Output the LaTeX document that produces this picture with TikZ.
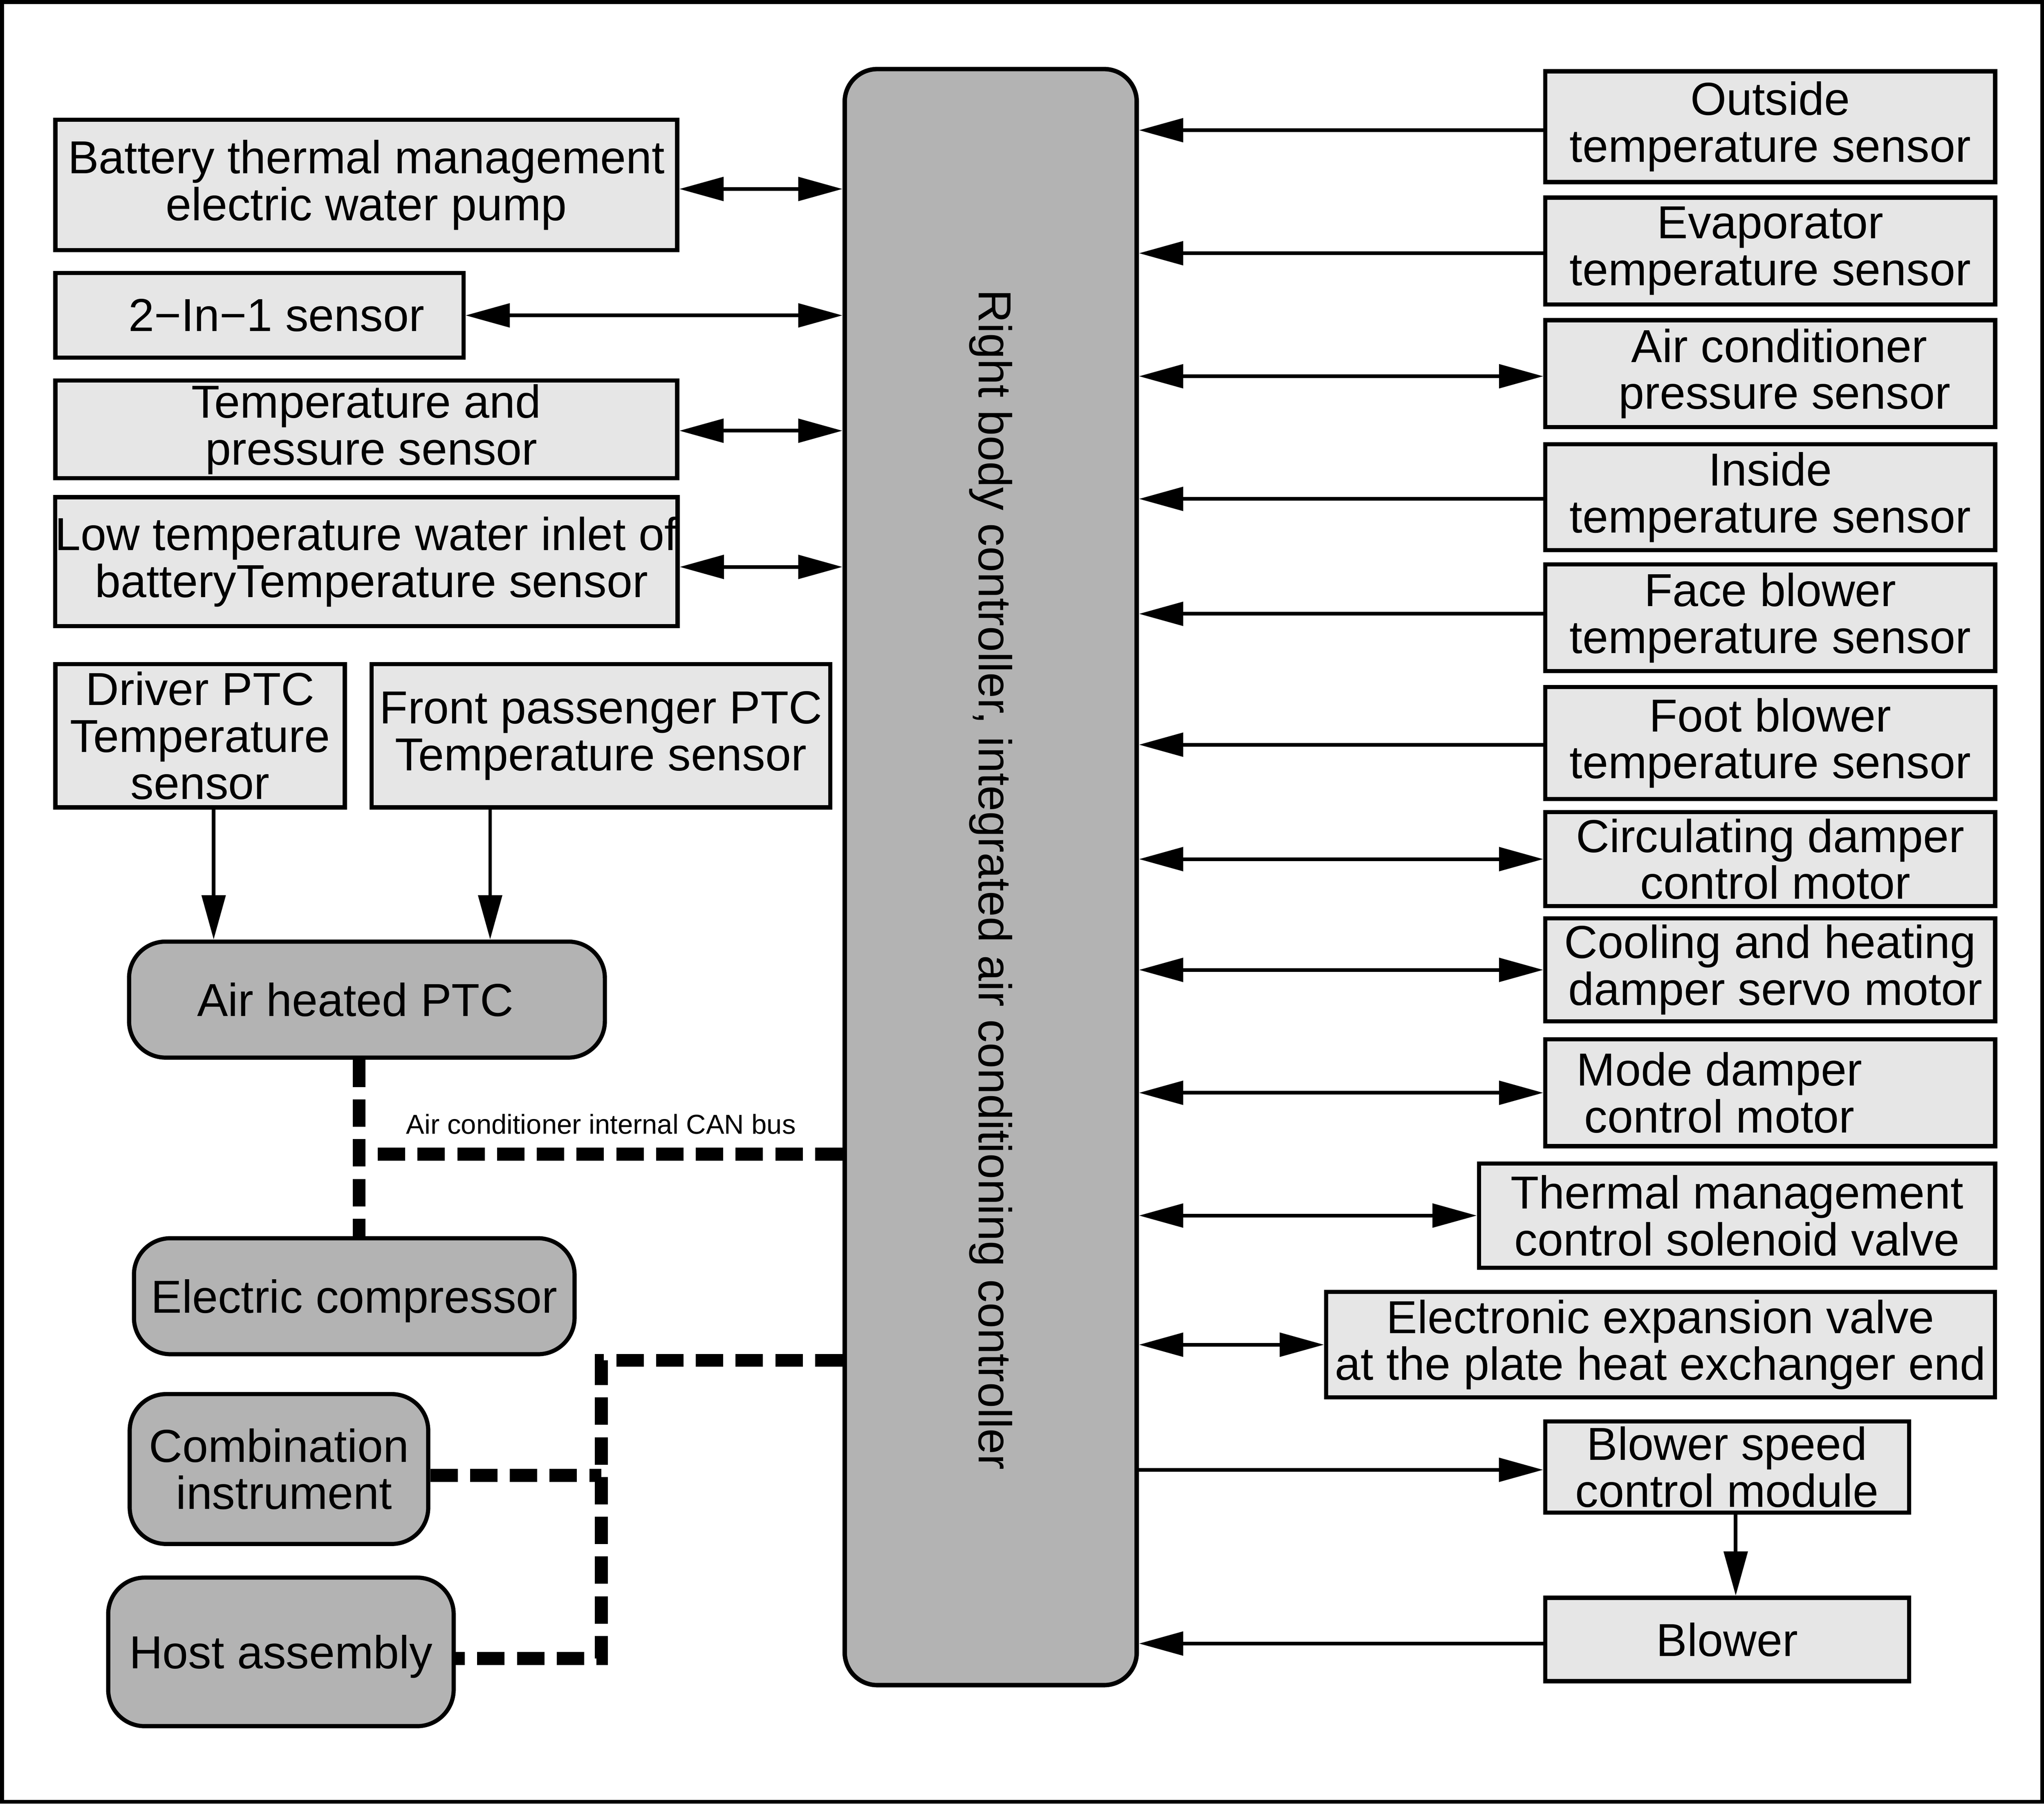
\documentclass[tikz,border=0pt]{standalone}
\usepackage{fontspec}
\setmainfont{Liberation Sans}
\usetikzlibrary{arrows.meta,calc}
\definecolor{lightbox}{HTML}{E6E6E6}
\definecolor{darkbox}{HTML}{B3B3B3}
\begin{document}
\begin{tikzpicture}[x=1pt,y=-1pt,
  >={Triangle[length=34pt,width=18pt]},
  bigfont/.style={font=\fontsize{35.5}{36}\selectfont},
  lbox/.style={draw, line width=3.2pt, fill=lightbox, inner sep=0pt, align=center, bigfont},
  dbox/.style={draw, line width=3.2pt, fill=darkbox, rounded corners=28pt, inner sep=0pt, align=center, bigfont},
  conn/.style={line width=2.8pt},
  canbus/.style={line width=10pt, dash pattern=on 21pt off 9.5pt},
]
\useasboundingbox (0,0) rectangle (1568,1384);
\draw[line width=3pt] (1.5,1.5) rectangle (1566.5,1382.5);

% controller
\node[draw, line width=3.4pt, fill=darkbox, rounded corners=25pt, minimum width=224pt, minimum height=1240pt, inner sep=0pt] (ctrl) at (760,673) {};
\node[bigfont, rotate=-90] (ctrltext) at (760,675) {Right body controller, integrated air conditioning controller};

% left light boxes
\node[lbox, minimum width=477pt, minimum height=100pt] (bat) at (281,142) {Battery thermal management\\electric water pump};
\node[lbox, minimum width=313pt, minimum height=65pt] (twoin) at (199,242) {\hspace*{26pt}2−In−1 sensor};
\node[lbox, minimum width=477pt, minimum height=75pt] (tp) at (281,329.5) {Temperature and\\\hspace*{8pt}pressure sensor};
\node[lbox, minimum width=477pt, minimum height=99pt] (low) at (281,431) {Low temperature water inlet of\\\hspace*{8pt}batteryTemperature sensor};
\node[lbox, minimum width=222pt, minimum height=110pt] (drv) at (153.5,564.5) {Driver PTC\\Temperature\\sensor};
\node[lbox, minimum width=352pt, minimum height=110pt] (fps) at (461,564.5) {Front passenger PTC\\Temperature sensor};

% left dark boxes
\node[dbox, minimum width=365pt, minimum height=89pt] (ptc) at (281.5,767) {Air heated PTC\hspace*{18pt}};
\node[dbox, minimum width=338pt, minimum height=89pt, text depth=0pt] (comp) at (271.75,994.6) {Electric compressor};
\node[dbox, minimum width=229pt, minimum height=115pt] (comb) at (214,1127.2) {Combination\\\hspace*{8pt}instrument};
\node[dbox, minimum width=265pt, minimum height=114pt, text depth=0pt] (host) at (215.5,1267.5) {Host assembly};

% right boxes
\node[lbox, minimum width=345pt, minimum height=85pt] (out) at (1358,97.2) {Outside\\temperature sensor};
\node[lbox, minimum width=345pt, minimum height=82pt] (evap) at (1358,192.6) {Evaporator\\temperature sensor};
\node[lbox, minimum width=345pt, minimum height=82pt] (acp) at (1358,286.7) {\hspace*{14pt}Air conditioner\\\hspace*{22pt}pressure sensor};
\node[lbox, minimum width=345pt, minimum height=81pt] (ins) at (1358,381.5) {Inside\\temperature sensor};
\node[lbox, minimum width=345pt, minimum height=82pt] (face) at (1358,474) {Face blower\\temperature sensor};
\node[lbox, minimum width=345pt, minimum height=86pt] (foot) at (1358,570.2) {Foot blower\\temperature sensor};
\node[lbox, minimum width=345pt, minimum height=72pt] (circ) at (1358,659.2) {Circulating damper\\\hspace*{8pt}control motor};
\node[lbox, minimum width=345pt, minimum height=79pt] (cool) at (1358,744.2) {Cooling and heating\\\hspace*{8pt}damper servo motor};
\node[lbox, minimum width=345pt, minimum height=82pt] (mode) at (1358,838.5) {Mode damper\hspace*{78pt}\\control motor\hspace*{78pt}};
\node[lbox, minimum width=396pt, minimum height=80pt] (therm) at (1332.5,932.7) {Thermal management\\control solenoid valve};
\node[lbox, minimum width=513pt, minimum height=81pt] (elec) at (1273.8,1031.8) {Electronic expansion valve\\at the plate heat exchanger end};
\node[lbox, minimum width=279pt, minimum height=70pt] (bsc) at (1324.9,1125.6) {Blower speed\\control module};
\node[lbox, minimum width=279pt, minimum height=64pt] (blow) at (1324.9,1258) {Blower};

% left connectors
\draw[conn,<->] ($(bat.east)+(0,3)$) -- ($(bat.east -| ctrl.west)+(0,3)$);
\draw[conn,<->] (twoin.east) -- (twoin.east -| ctrl.west);
\draw[conn,<->] ($(tp.east)+(0,1)$) -- ($(tp.east -| ctrl.west)+(0,1)$);
\draw[conn,<->] ($(low.east)+(0,4)$) -- ($(low.east -| ctrl.west)+(0,4)$);
\coordinate (a1) at ($(drv.south)+(10.4,0)$);
\coordinate (a2) at ($(fps.south)+(-85,0)$);
\draw[conn,->] (a1) -- (a1 |- ptc.north);
\draw[conn,->] (a2) -- (a2 |- ptc.north);

% right connectors
\draw[conn,->] ($(out.west)+(0,2.7)$) -- ($(out.west -| ctrl.east)+(0,2.7)$);
\draw[conn,->] ($(evap.west)+(0,1.7)$) -- ($(evap.west -| ctrl.east)+(0,1.7)$);
\draw[conn,<->] ($(ctrl.east |- acp.west)+(0,2)$) -- ($(acp.west)+(0,2)$);
\draw[conn,->] ($(ins.west)+(0,1.3)$) -- ($(ins.west -| ctrl.east)+(0,1.3)$);
\draw[conn,->] ($(face.west)+(0,-3)$) -- ($(face.west -| ctrl.east)+(0,-3)$);
\draw[conn,->] ($(foot.west)+(0,1.2)$) -- ($(foot.west -| ctrl.east)+(0,1.2)$);
\draw[conn,<->] (ctrl.east |- circ.west) -- (circ.west);
\draw[conn,<->] (ctrl.east |- cool.west) -- (cool.west);
\draw[conn,<->] (ctrl.east |- mode.west) -- (mode.west);
\draw[conn,<->] (ctrl.east |- therm.west) -- (therm.west);
\draw[conn,<->] (ctrl.east |- elec.west) -- (elec.west);
\draw[conn,->] ($(ctrl.east |- bsc.west)+(0,2.2)$) -- ($(bsc.west)+(0,2.2)$);
\draw[conn,->] ($(blow.west)+(0,3.1)$) -- ($(blow.west -| ctrl.east)+(0,3.1)$);
\coordinate (a3) at ($(bsc.south)+(6.6,0)$);
\draw[conn,->] (a3) -- (a3 |- blow.north);

% CAN bus
\coordinate (j1) at (275.5,885.6);
\draw[canbus] (ptc.south -| j1) -- (comp.north -| j1);
\draw[canbus] (ctrl.west |- j1) -- (j1);
\node[font=\fontsize{21}{24}\selectfont, anchor=base west, inner sep=0pt] (canlabel) at (311.5,870) {Air conditioner internal CAN bus};
\coordinate (j2) at (461.3,1043.8);
\coordinate (j3) at (461.3,1272.6);
\draw[canbus] (ctrl.west |- j2) -- (j2) -- (j3) -- (j3 -| host.east);
\draw[canbus] ($(comb.east)+(0,5)$) -- ($(comb.east -| j2)+(0,5)$);
\end{tikzpicture}
\end{document}
